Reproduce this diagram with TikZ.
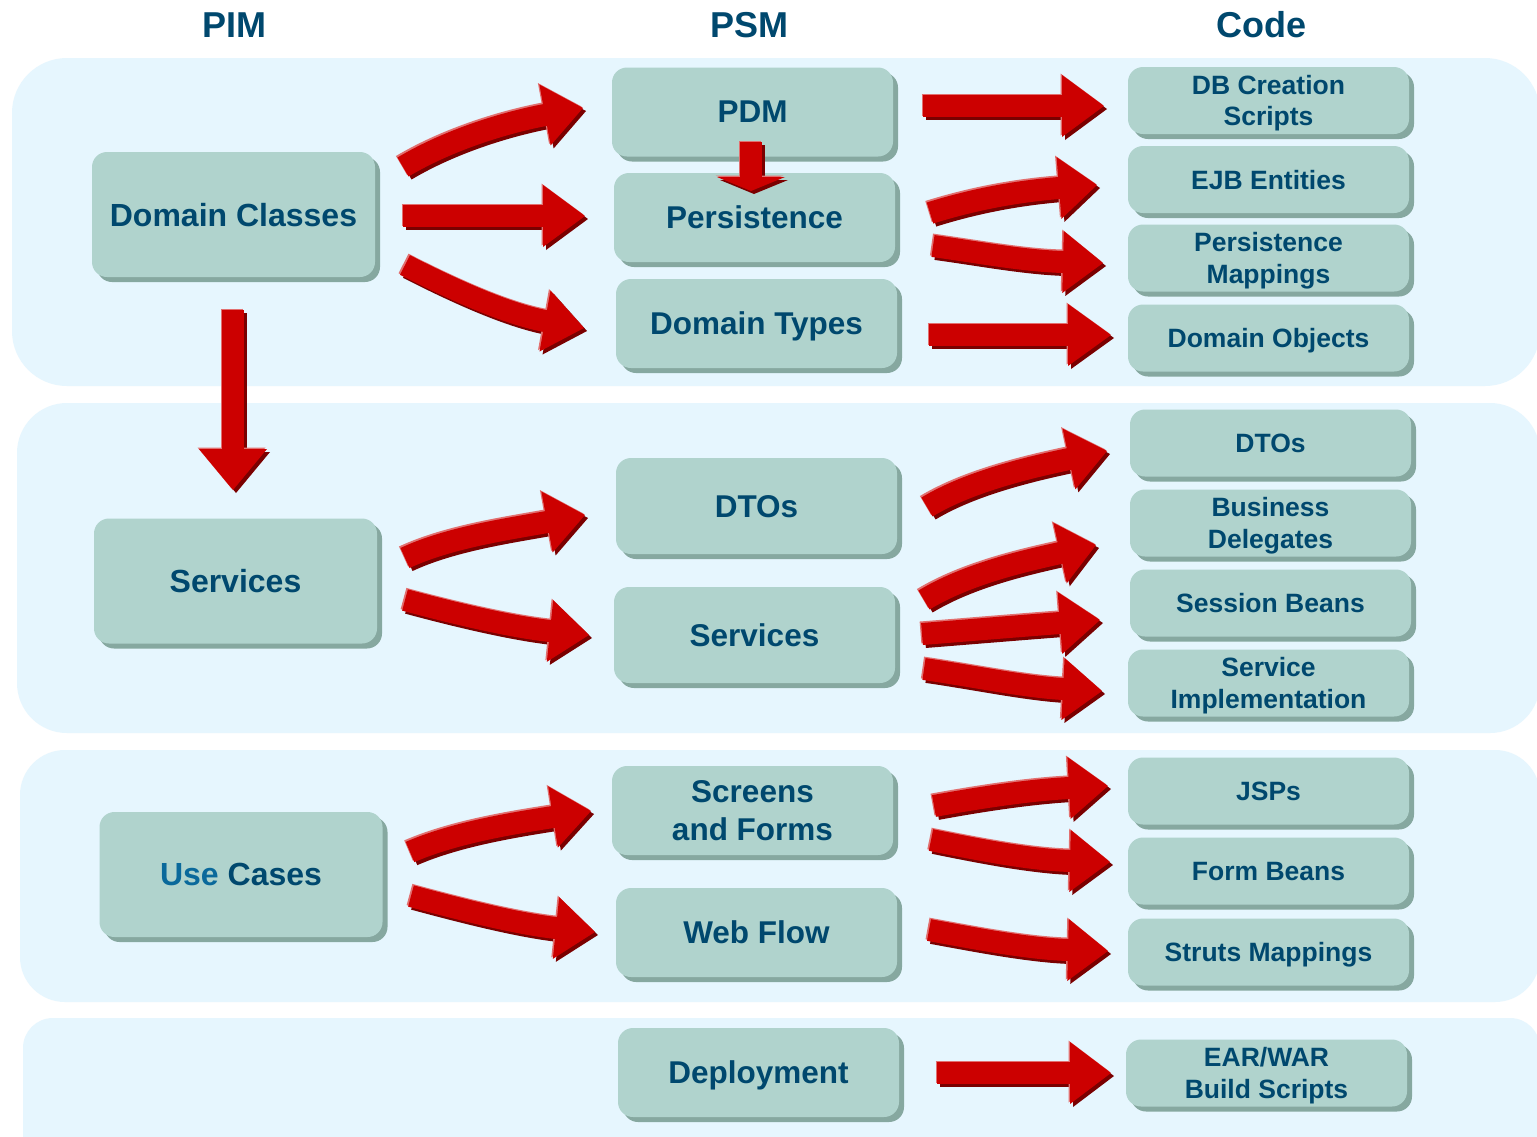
\documentclass[tikz,border=0pt]{standalone}
\usepackage{fontspec}
\setmainfont{Liberation Sans}
\usetikzlibrary{calc,shadows}

\definecolor{panelbg}{HTML}{E6F6FE}
\definecolor{boxfill}{HTML}{B0D3CD}
\definecolor{boxshade}{HTML}{86A8A0}
\definecolor{txtdark}{HTML}{00486E}
\definecolor{txtuse}{HTML}{0A699B}
\definecolor{arrred}{HTML}{CC0000}
\definecolor{arrdark}{HTML}{7A0000}
\definecolor{arrlight}{HTML}{E27070}

\tikzset{
  panel/.style={fill=panelbg},
  box/.style={fill=boxfill, rounded corners=15pt, text=txtdark, align=center,
    inner sep=0pt, text depth=-3pt,
    drop shadow={shadow xshift=5pt, shadow yshift=-5pt, fill=boxshade, opacity=1}},
  pimbox/.style={box, minimum width=283pt, minimum height=125pt,
    font=\bfseries\fontsize{32}{38}\selectfont},
  psmbox/.style={box, minimum width=281pt, minimum height=89pt,
    font=\bfseries\fontsize{31.5}{38}\selectfont},
  codebox/.style={box, minimum width=281pt, minimum height=67pt,
    font=\bfseries\fontsize{26.5}{31.5}\selectfont},
  colhead/.style={text=txtdark, inner sep=0pt, font=\bfseries\fontsize{36}{43}\selectfont},
}

% Curved block arrow: coordinates <p>s (start), <p>c (first control),
% <p>b (centre of the head base) and <p>t (tip); optional arg = half head width.
\newcommand\blockarrow[2][31pt]{%
  \foreach \dx/\dy/\col in {3pt/-3pt/arrdark,-1.5pt/1.5pt/arrlight,0pt/0pt/arrred}{%
    \begin{scope}[transform canvas={xshift=\dx,yshift=\dy}]
      \fill[fill=\col] ($(#2b)!#1!90:(#2t)$) -- (#2t) -- ($(#2b)!#1!-90:(#2t)$) -- cycle;
      \draw[draw=\col, line width=22pt] (#2s) .. controls (#2c) and ($(#2b)!-38pt!(#2t)$) .. ($(#2b)!2pt!(#2t)$);
    \end{scope}}}

% Straight block arrow: coordinates <p>s, <p>b, <p>t.
\newcommand\straightblock[2][31pt]{%
  \foreach \dx/\dy/\col in {3pt/-3pt/arrdark,-1.5pt/1.5pt/arrlight,0pt/0pt/arrred}{%
    \begin{scope}[transform canvas={xshift=\dx,yshift=\dy}]
      \fill[fill=\col] ($(#2b)!#1!90:(#2t)$) -- (#2t) -- ($(#2b)!#1!-90:(#2t)$) -- cycle;
      \draw[draw=\col, line width=22pt] (#2s) -- ($(#2b)!2pt!(#2t)$);
    \end{scope}}}

\begin{document}
\begin{tikzpicture}[x=1pt,y=-1pt]
\useasboundingbox (0,0) rectangle (1537,1136);
\fill[white] (0,0) rectangle (1537,1136);
\clip (0,0) rectangle (1537,1136);

% layer panels
\fill[panel, rounded corners=55pt] (12,58) rectangle (1540,386);
\fill[panel, rounded corners=50pt] (17,403) rectangle (1540,733);
\fill[panel, rounded corners=45pt] (20,750) rectangle (1540,1002);
\fill[panel, rounded corners=30pt] (23,1018) rectangle (1540,1175);

% column headings
\node[colhead] (hpim)  at (234,25)  {PIM};
\node[colhead] (hpsm)  at (749.5,25) {PSM};
\node[colhead] (hcode) at (1261.5,25) {Code};

% PIM
\node[pimbox] (dcls) at (233.5,214.5) {Domain Classes};
\node[pimbox] (psvc) at (235.5,581)   {Services};
\node[pimbox] (ucs)  at (241,874.5)   {{\color{txtuse}Use} Cases};

% PSM
\node[psmbox] (pdm)   at (752.5,112)   {PDM};
\node[psmbox] (pers)  at (754.5,217.5) {Persistence};
\node[psmbox] (dtyp)  at (756.5,323.5) {Domain Types};
\node[psmbox, minimum height=96pt] (dtos) at (756.5,506) {DTOs};
\node[psmbox, minimum height=96pt] (ssvc) at (754.5,635) {Services};
\node[psmbox] (scr)   at (752.5,810.5) {Screens\\and Forms};
\node[psmbox] (wflow) at (756.5,932.5) {Web Flow};
\node[psmbox] (depl)  at (758.5,1072.5) {Deployment};

% Code
\node[codebox] (dbc)   at (1268.5,100.5) {DB Creation\\Scripts};
\node[codebox] (ejb)   at (1268.5,179.5) {EJB Entities};
\node[codebox] (pmap)  at (1268.5,258)   {Persistence\\Mappings};
\node[codebox] (dobj)  at (1268.5,338)   {Domain Objects};
\node[codebox] (cdto)  at (1270.5,443)   {DTOs};
\node[codebox] (bdel)  at (1270.5,523)   {Business\\Delegates};
\node[codebox] (sbean) at (1270.5,603)   {Session Beans};
\node[codebox] (simpl) at (1268.5,683)   {Service\\Implementation};
\node[codebox] (jsp)   at (1268.5,791)   {JSPs};
\node[codebox] (fbean) at (1268.5,871)   {Form Beans};
\node[codebox] (smap)  at (1268.5,952)   {Struts Mappings};
\node[codebox] (ear)   at (1266.5,1073)  {EAR/WAR\\Build Scripts};

% arrow geometry
\coordinate (a1s) at (403,167);  \coordinate (a1c) at (450,139);  \coordinate (a1b) at (545,115);  \coordinate (a1t) at (583,108);
\coordinate (a2s) at (403,216);  \coordinate (a2b) at (543,216);  \coordinate (a2t) at (585,216);
\coordinate (a3s) at (405,265);  \coordinate (a3c) at (454,290);  \coordinate (a3b) at (545,321);  \coordinate (a3t) at (584,328);
\coordinate (a4s) at (751,142);  \coordinate (a4b) at (751,177);  \coordinate (a4t) at (751,191);
\coordinate (a5s) at (233,310);  \coordinate (a5b) at (233,449);  \coordinate (a5t) at (233,490);
\coordinate (a6s) at (923,106);  \coordinate (a6b) at (1062,106); \coordinate (a6t) at (1104,106);
\coordinate (a7s) at (930,213);  \coordinate (a7c) at (978,198);  \coordinate (a7b) at (1059,188); \coordinate (a7t) at (1097,185);
\coordinate (a8s) at (933,246);  \coordinate (a8c) at (983,253);  \coordinate (a8b) at (1063,262); \coordinate (a8t) at (1103,263);
\coordinate (a9s) at (929,335);  \coordinate (a9b) at (1068,335); \coordinate (a9t) at (1111,335);
\coordinate (a10s) at (405,558); \coordinate (a10c) at (450,537); \coordinate (a10b) at (547,522); \coordinate (a10t) at (585,515);
\coordinate (a11s) at (405,600); \coordinate (a11c) at (453,613); \coordinate (a11b) at (550,631); \coordinate (a11t) at (589,635);
\coordinate (a12s) at (927,507); \coordinate (a12c) at (970,481); \coordinate (a12b) at (1069,459); \coordinate (a12t) at (1107,451);
\coordinate (a13s) at (924,600); \coordinate (a13c) at (967,574); \coordinate (a13b) at (1060,553); \coordinate (a13t) at (1096,545);
\coordinate (a14s) at (922,634); \coordinate (a14c) at (972,630); \coordinate (a14b) at (1060,623); \coordinate (a14t) at (1100,620);
\coordinate (a15s) at (924,669); \coordinate (a15c) at (973,676); \coordinate (a15b) at (1063,689); \coordinate (a15t) at (1102,691);
\coordinate (a16s) at (410,852); \coordinate (a16c) at (456,832); \coordinate (a16b) at (553,817); \coordinate (a16t) at (591,811);
\coordinate (a17s) at (411,896); \coordinate (a17c) at (459,909); \coordinate (a17b) at (556,928); \coordinate (a17t) at (595,932);
\coordinate (a18s) at (934,806); \coordinate (a18c) at (983,797); \coordinate (a18b) at (1069,788); \coordinate (a18t) at (1108,786);
\coordinate (a19s) at (931,840); \coordinate (a19c) at (980,850); \coordinate (a19b) at (1070,861); \coordinate (a19t) at (1110,862);
\coordinate (a20s) at (929,930); \coordinate (a20c) at (978,939); \coordinate (a20b) at (1068,950); \coordinate (a20t) at (1108,951);
\coordinate (a21s) at (937,1073); \coordinate (a21b) at (1070,1073); \coordinate (a21t) at (1111,1073);

% arrows
\blockarrow{a1}
\straightblock{a2}
\blockarrow{a3}
\straightblock[34pt]{a4}
\straightblock[34pt]{a5}
\straightblock{a6}
\blockarrow{a7}
\blockarrow{a8}
\straightblock{a9}
\blockarrow{a10}
\blockarrow{a11}
\blockarrow{a12}
\blockarrow{a13}
\blockarrow{a14}
\blockarrow{a15}
\blockarrow{a16}
\blockarrow{a17}
\blockarrow{a18}
\blockarrow{a19}
\blockarrow{a20}
\straightblock{a21}
\end{tikzpicture}
\end{document}
